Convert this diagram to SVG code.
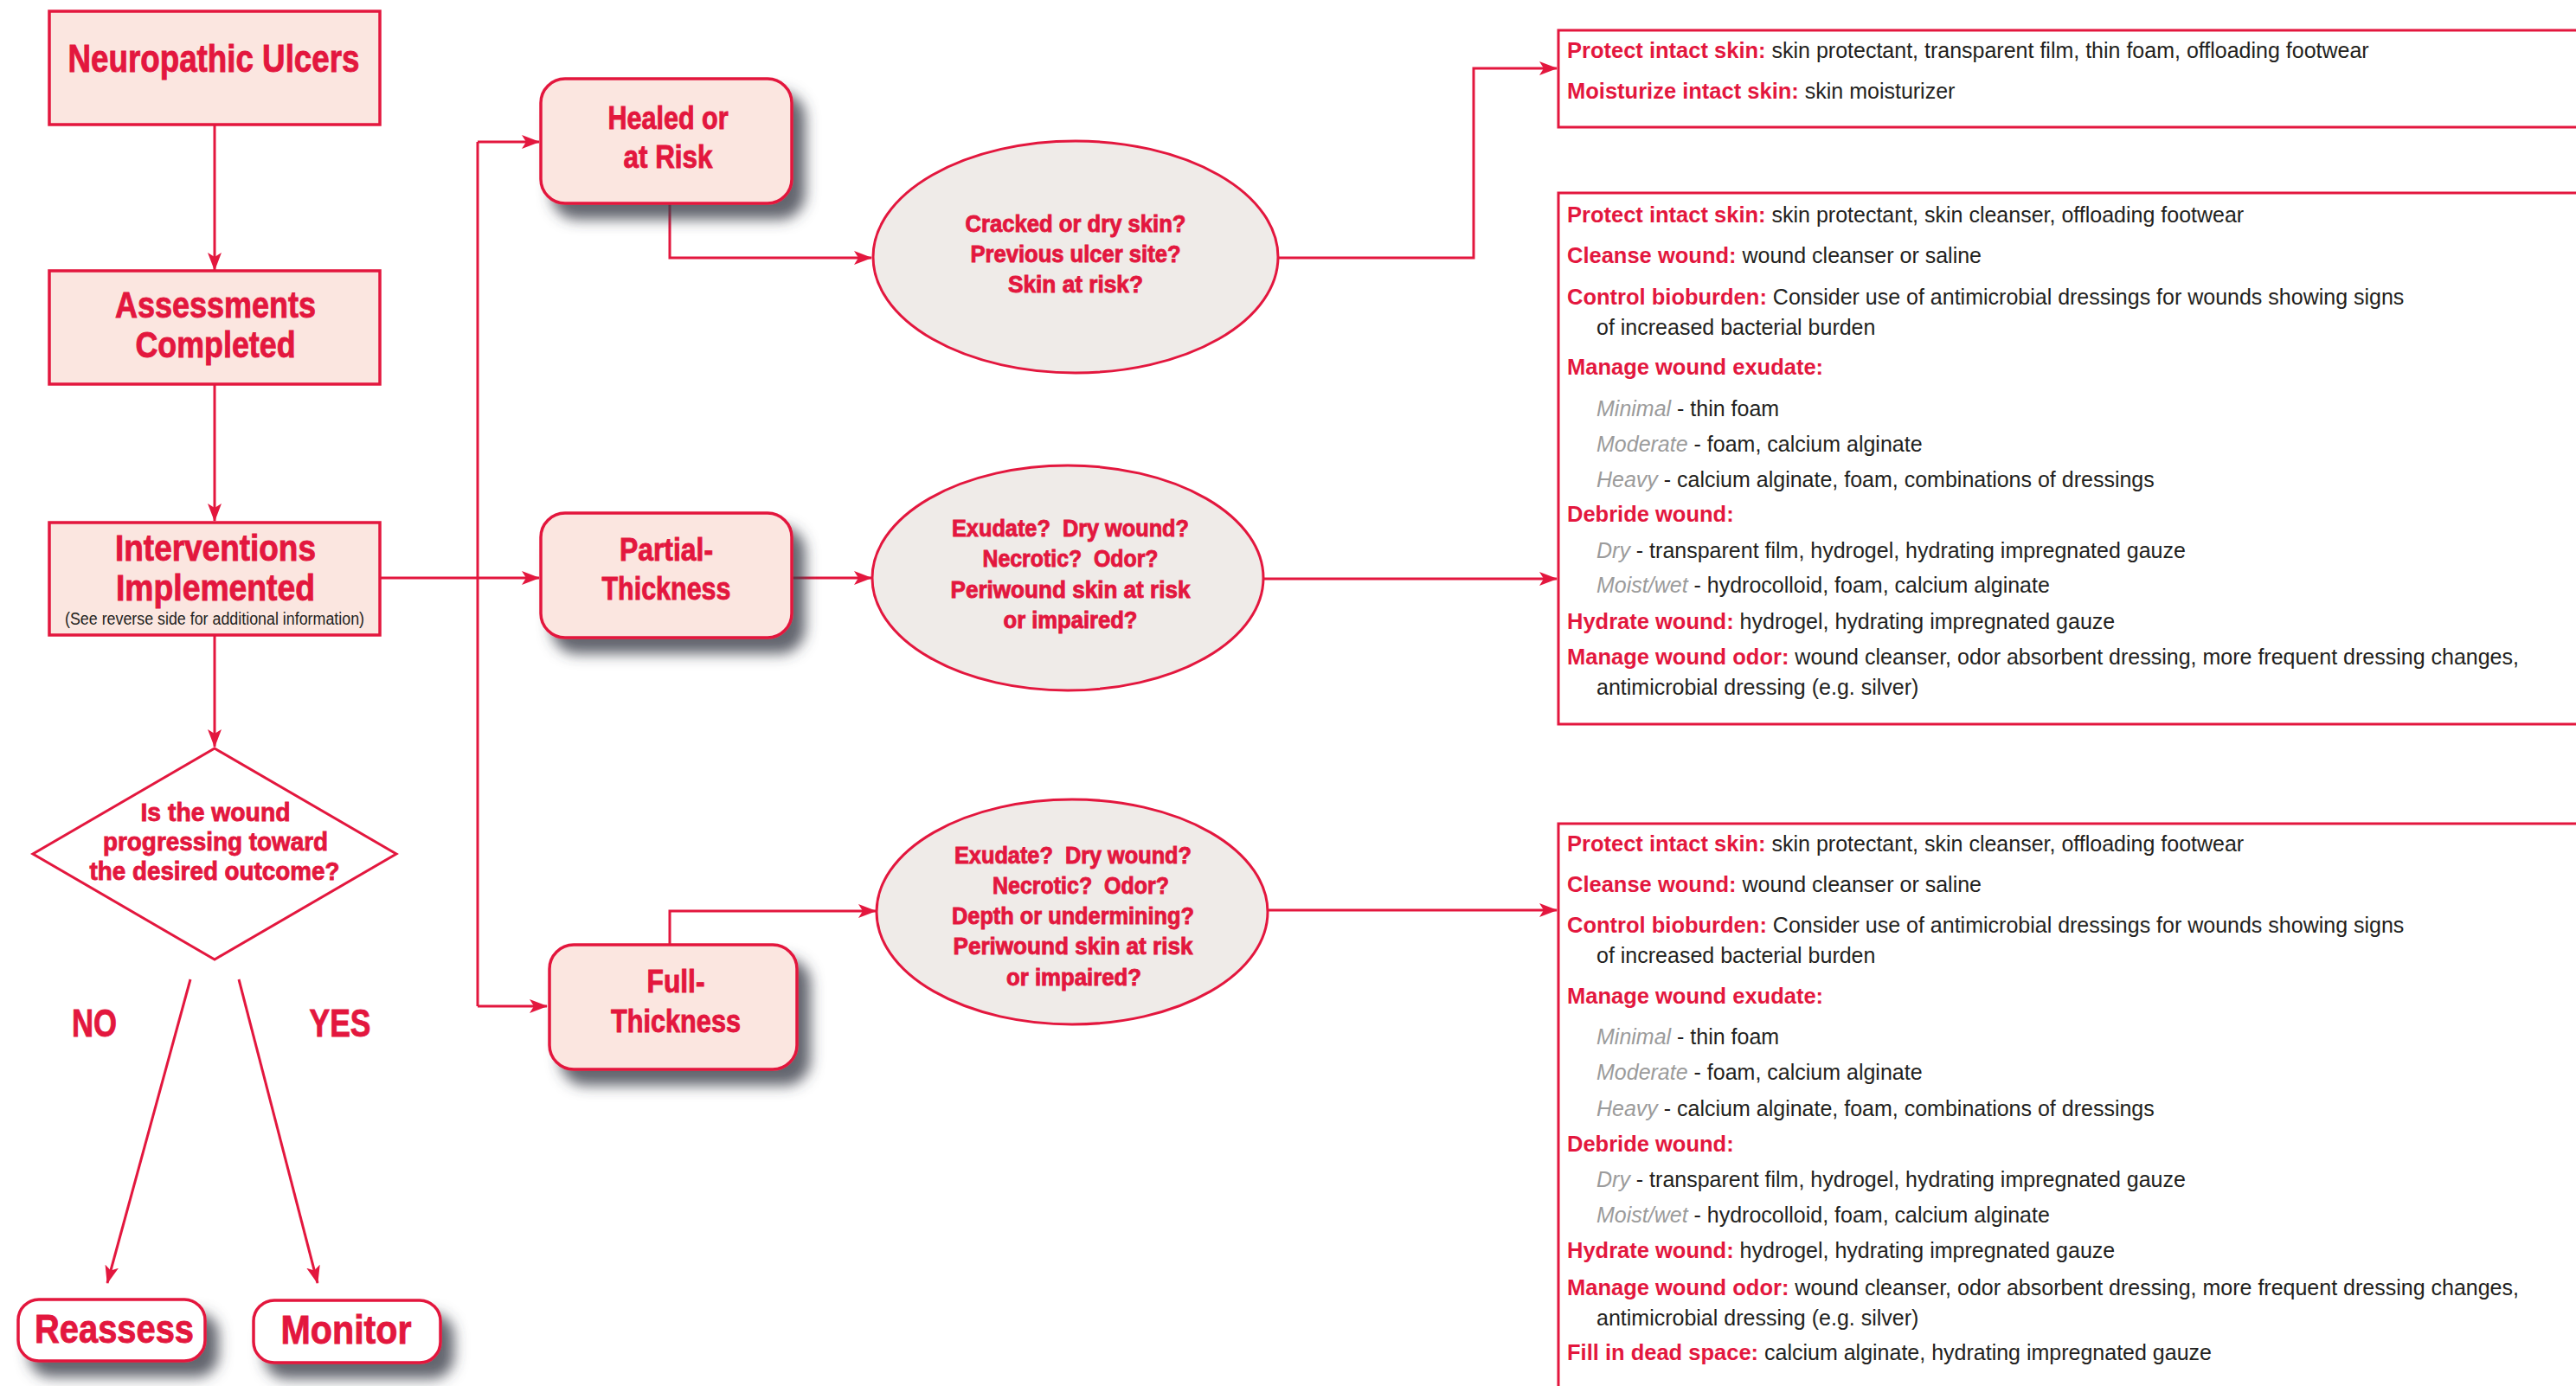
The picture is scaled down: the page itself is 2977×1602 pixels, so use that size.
<svg xmlns="http://www.w3.org/2000/svg" width="2977" height="1602" viewBox="0 0 2977 1602">
<defs>
<style>
.t{font-family:"Liberation Sans",Arial,sans-serif;}
.h{fill:#e3173e;font-weight:bold;text-anchor:middle;stroke:#e3173e;stroke-width:0.9;}
.rb{fill:#e3173e;font-weight:bold;font-size:25.5px;}
.bd{fill:#231f20;font-weight:normal;font-style:normal;font-size:25px;}
.gi{fill:#9b9b9b;font-style:italic;font-weight:normal;font-size:25px;}
.box{fill:#fbe6e0;stroke:#e3173e;stroke-width:3.5;}
.rbox{fill:#fbe6e0;stroke:#e3173e;stroke-width:3.5;filter:url(#sh);}
.wbox{fill:#ffffff;stroke:#e3173e;stroke-width:3.5;filter:url(#sh);}
.ell{fill:#efebe8;stroke:#e3173e;stroke-width:3;}
.obox{fill:#ffffff;stroke:#e3173e;stroke-width:3;}
.c{fill:none;stroke:#e3173e;stroke-width:3;}
.ca{fill:none;stroke:#e3173e;stroke-width:3;marker-end:url(#ar);}
.pre{white-space:pre;}
</style>
<marker id="ar" markerWidth="22" markerHeight="16" refX="20" refY="8" orient="auto" markerUnits="userSpaceOnUse">
<path d="M0,0 L21,8 L0,16 L5,8 Z" fill="#e3173e"/>
</marker>
<filter id="sh" x="-20%" y="-20%" width="160%" height="170%">
<feDropShadow dx="14" dy="17" stdDeviation="8" flood-color="#3b404a" flood-opacity="0.8"/>
</filter>
</defs>
<rect width="2977" height="1602" fill="#ffffff"/>

<g id="connectors">
<path class="ca" d="M248,144 V312"/>
<path class="ca" d="M248,444 V602"/>
<path class="ca" d="M248,734 V863"/>
<path class="ca" d="M439,668 H623"/>
<path class="c" d="M552,164 V1163"/>
<path class="ca" d="M552,164 H623"/>
<path class="ca" d="M552,1163 H632"/>
<path class="ca" d="M774,235 V298 H1007"/>
<path class="ca" d="M915,668 H1007"/>
<path class="ca" d="M774,1092 V1053 H1012"/>
<path class="ca" d="M1477,298 H1703 V79 H1799"/>
<path class="ca" d="M1460,669 H1799"/>
<path class="ca" d="M1465,1052 H1799"/>
<path class="ca" d="M220,1132 L124,1483"/>
<path class="ca" d="M276,1132 L367,1483"/>
</g>

<g id="neuropathic-ulcers">
<rect class="box" x="57" y="13" width="382" height="131"/>
<text class="t h" x="247" y="83" font-size="44" textLength="337" lengthAdjust="spacingAndGlyphs">Neuropathic Ulcers</text>
</g>

<g id="assessments-completed">
<rect class="box" x="57" y="313" width="382" height="131"/>
<text class="t h" x="249" y="367" font-size="42" textLength="232" lengthAdjust="spacingAndGlyphs">Assessments</text>
<text class="t h" x="249" y="413" font-size="42" textLength="185" lengthAdjust="spacingAndGlyphs">Completed</text>
</g>

<g id="interventions-implemented">
<rect class="box" x="57" y="604" width="382" height="130"/>
<text class="t h" x="249" y="648" font-size="42" textLength="232" lengthAdjust="spacingAndGlyphs">Interventions</text>
<text class="t h" x="249" y="694" font-size="42" textLength="230" lengthAdjust="spacingAndGlyphs">Implemented</text>
<text class="t" x="248" y="722" font-size="20" fill="#231f20" text-anchor="middle" textLength="346" lengthAdjust="spacingAndGlyphs">(See reverse side for additional information)</text>
</g>

<g id="decision">
<polygon points="248,865 458,987 248,1109 38,987" fill="#ffffff" stroke="#e3173e" stroke-width="3"/>
<text class="t h" x="249" y="949" font-size="30" textLength="173" lengthAdjust="spacingAndGlyphs">Is the wound</text>
<text class="t h" x="249" y="983" font-size="30" textLength="260" lengthAdjust="spacingAndGlyphs">progressing toward</text>
<text class="t h" x="248" y="1017" font-size="30" textLength="289" lengthAdjust="spacingAndGlyphs">the desired outcome?</text>
</g>

<g id="label-no">
<text class="t h" x="109" y="1198" font-size="45" textLength="52" lengthAdjust="spacingAndGlyphs">NO</text>
</g>
<g id="label-yes">
<text class="t h" x="393" y="1198" font-size="45" textLength="71" lengthAdjust="spacingAndGlyphs">YES</text>
</g>

<g id="reassess">
<rect class="wbox" x="21" y="1502" width="216" height="71" rx="24"/>
<text class="t h" x="132" y="1552" font-size="46" textLength="184" lengthAdjust="spacingAndGlyphs">Reassess</text>
</g>

<g id="monitor">
<rect class="wbox" x="293" y="1503" width="216" height="72" rx="24"/>
<text class="t h" x="400" y="1553" font-size="46" textLength="151" lengthAdjust="spacingAndGlyphs">Monitor</text>
</g>

<g id="healed-or-at-risk">
<rect class="rbox" x="625" y="91" width="290" height="144" rx="28"/>
<text class="t h" x="772" y="149" font-size="36" textLength="139" lengthAdjust="spacingAndGlyphs">Healed or</text>
<text class="t h" x="772" y="194" font-size="36" textLength="103" lengthAdjust="spacingAndGlyphs">at Risk</text>
</g>

<g id="partial-thickness">
<rect class="rbox" x="625" y="593" width="290" height="144" rx="28"/>
<text class="t h" x="770" y="648" font-size="36" textLength="108" lengthAdjust="spacingAndGlyphs">Partial-</text>
<text class="t h" x="770" y="693" font-size="36" textLength="149" lengthAdjust="spacingAndGlyphs">Thickness</text>
</g>

<g id="full-thickness">
<rect class="rbox" x="635" y="1092" width="286" height="144" rx="28"/>
<text class="t h" x="781" y="1147" font-size="36" textLength="67" lengthAdjust="spacingAndGlyphs">Full-</text>
<text class="t h" x="781" y="1193" font-size="36" textLength="150" lengthAdjust="spacingAndGlyphs">Thickness</text>
</g>

<g id="assess-healed">
<ellipse class="ell" cx="1243" cy="297" rx="234" ry="134"/>
<text class="t h" x="1243" y="268" font-size="27" textLength="255" lengthAdjust="spacingAndGlyphs">Cracked or dry skin?</text>
<text class="t h" x="1243" y="303" font-size="27" textLength="243" lengthAdjust="spacingAndGlyphs">Previous ulcer site?</text>
<text class="t h" x="1243" y="338" font-size="27" textLength="156" lengthAdjust="spacingAndGlyphs">Skin at risk?</text>
</g>

<g id="assess-partial">
<ellipse class="ell" cx="1234" cy="668" rx="226" ry="130"/>
<text class="t h pre" x="1237" y="620" font-size="27" textLength="274" lengthAdjust="spacingAndGlyphs">Exudate?  Dry wound?</text>
<text class="t h pre" x="1237" y="655" font-size="27" textLength="203" lengthAdjust="spacingAndGlyphs">Necrotic?  Odor?</text>
<text class="t h" x="1237" y="691" font-size="27" textLength="277" lengthAdjust="spacingAndGlyphs">Periwound skin at risk</text>
<text class="t h" x="1237" y="726" font-size="27" textLength="155" lengthAdjust="spacingAndGlyphs">or impaired?</text>
</g>

<g id="assess-full">
<ellipse class="ell" cx="1239" cy="1054" rx="226" ry="130"/>
<text class="t h pre" x="1240" y="998" font-size="27" textLength="274" lengthAdjust="spacingAndGlyphs">Exudate?  Dry wound?</text>
<text class="t h pre" x="1249" y="1033" font-size="27" textLength="204" lengthAdjust="spacingAndGlyphs">Necrotic?  Odor?</text>
<text class="t h" x="1240" y="1068" font-size="27" textLength="280" lengthAdjust="spacingAndGlyphs">Depth or undermining?</text>
<text class="t h" x="1240" y="1103" font-size="27" textLength="277" lengthAdjust="spacingAndGlyphs">Periwound skin at risk</text>
<text class="t h" x="1241" y="1139" font-size="27" textLength="156" lengthAdjust="spacingAndGlyphs">or impaired?</text>
</g>

<g id="interventions-healed" class="t">
<rect class="obox" x="1801" y="35" width="1200" height="112"/>
<text x="1811" y="67"><tspan class="rb">Protect intact skin:</tspan><tspan class="bd"> skin protectant, transparent film, thin foam, offloading footwear</tspan></text>
<text x="1811" y="114"><tspan class="rb">Moisturize intact skin:</tspan><tspan class="bd"> skin moisturizer</tspan></text>
</g>

<g id="interventions-partial" class="t">
<rect class="obox" x="1801" y="223" width="1200" height="614"/>
<text x="1811" y="257"><tspan class="rb">Protect intact skin:</tspan><tspan class="bd"> skin protectant, skin cleanser, offloading footwear</tspan></text>
<text x="1811" y="304"><tspan class="rb">Cleanse wound:</tspan><tspan class="bd"> wound cleanser or saline</tspan></text>
<text x="1811" y="352"><tspan class="rb">Control bioburden:</tspan><tspan class="bd"> Consider use of antimicrobial dressings for wounds showing signs</tspan></text>
<text class="bd" x="1845" y="387">of increased bacterial burden</text>
<text class="rb" x="1811" y="433">Manage wound exudate:</text>
<text x="1845" y="481"><tspan class="gi">Minimal</tspan><tspan class="bd"> - thin foam</tspan></text>
<text x="1845" y="522"><tspan class="gi">Moderate</tspan><tspan class="bd"> - foam, calcium alginate</tspan></text>
<text x="1845" y="563"><tspan class="gi">Heavy</tspan><tspan class="bd"> - calcium alginate, foam, combinations of dressings</tspan></text>
<text class="rb" x="1811" y="603">Debride wound:</text>
<text x="1845" y="645"><tspan class="gi">Dry</tspan><tspan class="bd"> - transparent film, hydrogel, hydrating impregnated gauze</tspan></text>
<text x="1845" y="685"><tspan class="gi">Moist/wet</tspan><tspan class="bd"> - hydrocolloid, foam, calcium alginate</tspan></text>
<text x="1811" y="727"><tspan class="rb">Hydrate wound:</tspan><tspan class="bd"> hydrogel, hydrating impregnated gauze</tspan></text>
<text x="1811" y="768"><tspan class="rb">Manage wound odor:</tspan><tspan class="bd"> wound cleanser, odor absorbent dressing, more frequent dressing changes,</tspan></text>
<text class="bd" x="1845" y="803">antimicrobial dressing (e.g. silver)</text>
</g>

<g id="interventions-full" class="t">
<rect class="obox" x="1801" y="952" width="1200" height="700"/>
<text x="1811" y="984"><tspan class="rb">Protect intact skin:</tspan><tspan class="bd"> skin protectant, skin cleanser, offloading footwear</tspan></text>
<text x="1811" y="1031"><tspan class="rb">Cleanse wound:</tspan><tspan class="bd"> wound cleanser or saline</tspan></text>
<text x="1811" y="1078"><tspan class="rb">Control bioburden:</tspan><tspan class="bd"> Consider use of antimicrobial dressings for wounds showing signs</tspan></text>
<text class="bd" x="1845" y="1113">of increased bacterial burden</text>
<text class="rb" x="1811" y="1160">Manage wound exudate:</text>
<text x="1845" y="1207"><tspan class="gi">Minimal</tspan><tspan class="bd"> - thin foam</tspan></text>
<text x="1845" y="1248"><tspan class="gi">Moderate</tspan><tspan class="bd"> - foam, calcium alginate</tspan></text>
<text x="1845" y="1290"><tspan class="gi">Heavy</tspan><tspan class="bd"> - calcium alginate, foam, combinations of dressings</tspan></text>
<text class="rb" x="1811" y="1331">Debride wound:</text>
<text x="1845" y="1372"><tspan class="gi">Dry</tspan><tspan class="bd"> - transparent film, hydrogel, hydrating impregnated gauze</tspan></text>
<text x="1845" y="1413"><tspan class="gi">Moist/wet</tspan><tspan class="bd"> - hydrocolloid, foam, calcium alginate</tspan></text>
<text x="1811" y="1454"><tspan class="rb">Hydrate wound:</tspan><tspan class="bd"> hydrogel, hydrating impregnated gauze</tspan></text>
<text x="1811" y="1497"><tspan class="rb">Manage wound odor:</tspan><tspan class="bd"> wound cleanser, odor absorbent dressing, more frequent dressing changes,</tspan></text>
<text class="bd" x="1845" y="1532">antimicrobial dressing (e.g. silver)</text>
<text x="1811" y="1572"><tspan class="rb">Fill in dead space:</tspan><tspan class="bd"> calcium alginate, hydrating impregnated gauze</tspan></text>
</g>
</svg>
